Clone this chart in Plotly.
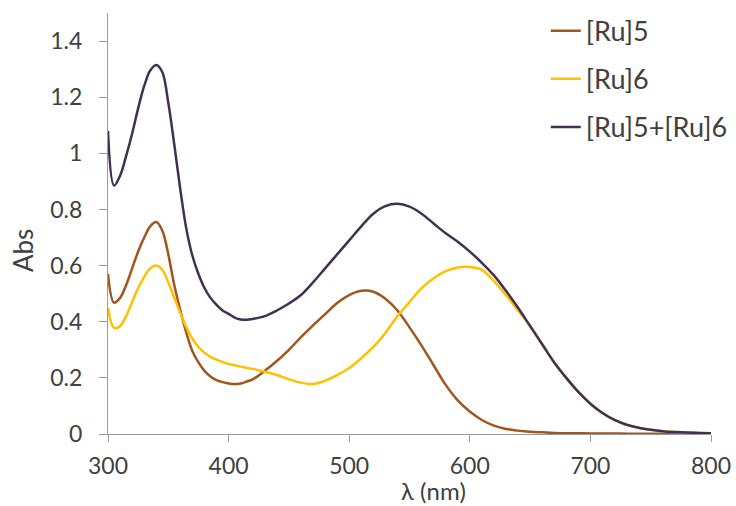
import plotly.graph_objects as go

# Wavelengths (nm): 5 nm steps to 420, then 10 nm steps
wl = [300, 305, 310, 315, 320, 325, 330, 335, 340, 345, 350, 355, 360, 365, 370, 375, 380, 385, 390, 395,
      400, 405, 410, 415, 420, 430, 440, 450, 460, 470, 480, 490, 500, 510, 520, 530, 540, 550, 560, 570,
      580, 590, 600, 610, 620, 630, 640, 650, 660, 670, 680, 690, 700, 710, 720, 730, 740, 750, 760, 770,
      780, 790, 800]

abs_ru5 = [0.57, 0.468, 0.485, 0.53, 0.59, 0.65, 0.70, 0.74, 0.755, 0.725, 0.64, 0.53, 0.44, 0.36, 0.295,
           0.255, 0.225, 0.205, 0.192, 0.185, 0.18, 0.178, 0.18, 0.187, 0.195, 0.225, 0.26, 0.30, 0.345, 0.387,
           0.427, 0.467, 0.495, 0.51, 0.507, 0.482, 0.44, 0.38, 0.315, 0.245, 0.175, 0.12, 0.08, 0.05, 0.03,
           0.018, 0.012, 0.008, 0.006, 0.004, 0.003, 0.003, 0.002, 0.002, 0.002, 0.001, 0.001, 0.001, 0.001,
           0.001, 0.001, 0.001, 0.001]

abs_ru6 = [0.45, 0.378, 0.385, 0.42, 0.47, 0.52, 0.56, 0.59, 0.60, 0.585, 0.54, 0.485, 0.43, 0.38, 0.34,
           0.31, 0.29, 0.275, 0.265, 0.257, 0.25, 0.245, 0.24, 0.236, 0.232, 0.222, 0.21, 0.195, 0.183, 0.178,
           0.19, 0.21, 0.235, 0.27, 0.31, 0.36, 0.42, 0.47, 0.52, 0.555, 0.58, 0.593, 0.595, 0.585, 0.545,
           0.495, 0.44, 0.385, 0.32, 0.255, 0.20, 0.15, 0.108, 0.075, 0.05, 0.033, 0.022, 0.015, 0.01, 0.007,
           0.005, 0.004, 0.003]

abs_mix = [1.08, 0.885, 0.92, 0.99, 1.07, 1.16, 1.24, 1.295, 1.315, 1.29, 1.18, 1.03, 0.87, 0.73, 0.635,
           0.57, 0.52, 0.485, 0.46, 0.44, 0.428, 0.415, 0.408, 0.407, 0.41, 0.42, 0.44, 0.465, 0.495, 0.54,
           0.59, 0.64, 0.69, 0.74, 0.785, 0.812, 0.82, 0.81, 0.785, 0.75, 0.715, 0.685, 0.65, 0.61, 0.565,
           0.51, 0.45, 0.385, 0.32, 0.255, 0.20, 0.15, 0.108, 0.075, 0.05, 0.033, 0.022, 0.015, 0.01, 0.007,
           0.005, 0.004, 0.003]

series_names = ["[Ru]5", "[Ru]6", "[Ru]5+[Ru]6"]
series_colors = ["#a0561e", "#ffc000", "#403152"]

x_ticks = [300, 400, 500, 600, 700, 800]
y_ticks = [0, 0.2, 0.4, 0.6, 0.8, 1.0, 1.2, 1.4]
y_tick_labels = ["0", "0.2", "0.4", "0.6", "0.8", "1", "1.2", "1.4"]

FONT = "Lato"
TXT = "#404040"
AX = "#9a9a9a"
FS = 23

fig = go.Figure()
for i, ys in enumerate([abs_ru5, abs_ru6, abs_mix]):
    fig.add_trace(go.Scatter(
        x=wl, y=ys, mode="lines", name=series_names[i], legendgroup=str(i),
        line=dict(color=series_colors[i], width=2.5, shape="spline", smoothing=1.0),
    ))

fig.update_layout(
    width=736, height=506,
    margin=dict(l=108, r=25, t=13, b=72, autoexpand=False),
    paper_bgcolor="white", plot_bgcolor="white",
    font=dict(family=FONT, size=FS, color=TXT),
    legend=dict(x=0.726, y=1.015, xanchor="left", yanchor="top", bgcolor="rgba(0,0,0,0)",
                font=dict(family=FONT, size=27, color=TXT), tracegroupgap=10),
    xaxis=dict(range=[300, 800], tickvals=x_ticks, showline=True, linecolor=AX, linewidth=1.3,
               ticks="outside", ticklen=7, tickcolor=AX, showgrid=False, zeroline=False,
               ticklabelstandoff=4, tickfont=dict(family=FONT, size=FS, color=TXT)),
    yaxis=dict(range=[0, 1.5], tickvals=y_ticks, ticktext=y_tick_labels, showline=True, linecolor=AX,
               linewidth=1.3, ticks="outside", ticklen=8, tickcolor=AX, showgrid=False, zeroline=False,
               ticklabelstandoff=12, tickfont=dict(family=FONT, size=FS, color=TXT)),
    annotations=[
        dict(text="λ (nm)", xref="paper", yref="paper", x=0.539, y=-0.1342, xanchor="center", yanchor="middle",
             showarrow=False, font=dict(family=FONT, size=24, color=TXT)),
        dict(text="Abs", xref="paper", yref="paper", x=-0.141, y=0.437, xanchor="center", yanchor="middle",
             textangle=-90, showarrow=False, font=dict(family=FONT, size=26, color=TXT)),
    ],
)

# remove the page's default body margin so the figure fills the window exactly
fig.write_html("out.html", config={"displayModeBar": False},
               post_script="document.body.style.margin='0px';")
